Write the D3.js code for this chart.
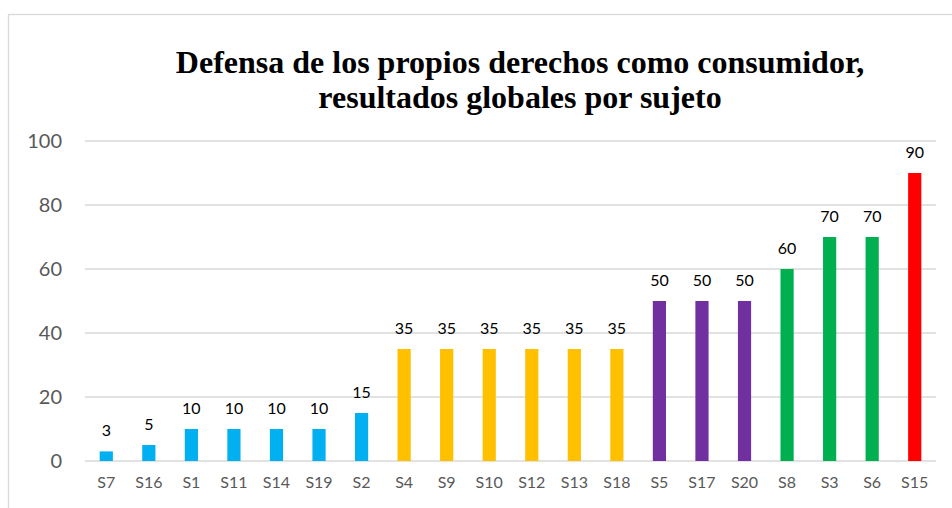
<!DOCTYPE html>
<html>
<head>
<meta charset="utf-8">
<script src="https://cdn.jsdelivr.net/npm/d3@7"></script>
<style>
  body { margin: 0; background: #fff; }
  svg { display: block; }
</style>
</head>
<body>
<svg id="chart" width="952" height="508"></svg>
<script>
// datos
const subjects = ['S7','S16','S1','S11','S14','S19','S2','S4','S9','S10','S12','S13','S18','S5','S17','S20','S8','S3','S6','S15'];
const scores = [3, 5, 10, 10, 10, 10, 15, 35, 35, 35, 35, 35, 35, 50, 50, 50, 60, 70, 70, 90];
const groups = ['b','b','b','b','b','b','b','y','y','y','y','y','y','p','p','p','g','g','g','r'];
const yTicks = [0, 20, 40, 60, 80, 100];
const titleLines = ['Defensa de los propios derechos como consumidor,', 'resultados globales por sujeto'];

const groupColor = { b: '#00B0F0', y: '#FFC000', p: '#7030A0', g: '#00B050', r: '#FF0000' };

const svg = d3.select('#chart');
const plotLeft = 85, plotRight = 936, plotTop = 141, plotBottom = 461;

// chart frame
svg.append('rect')
    .attr('x', 8.5).attr('y', 14.5)
    .attr('width', 960).attr('height', 520)
    .attr('fill', 'none')
    .attr('stroke', '#d9d9d9')
    .attr('stroke-width', 1.3);

svg.append('g').selectAll('text')
    .data(titleLines)
    .join('text')
    .attr('x', 520)
    .attr('y', (d, i) => 73 + i * 35)
    .attr('text-anchor', 'middle')
    .style('font-family', '"Liberation Serif", "Times New Roman", serif')
    .style('font-weight', 'bold')
    .style('font-size', '32px')
    .attr('fill', '#000')
    .text(d => d);

const x = d3.scaleBand().domain(subjects).range([plotLeft, plotRight]).paddingInner(0.69).paddingOuter(0.345);
const y = d3.scaleLinear().domain([0, 100]).range([plotBottom, plotTop]);

// gridlines
svg.append('g').selectAll('line')
    .data(yTicks)
    .join('line')
    .attr('x1', plotLeft).attr('x2', plotRight)
    .attr('y1', d => y(d)).attr('y2', d => y(d))
    .attr('stroke', '#d9d9d9')
    .attr('stroke-width', 1.3);

const yAxis = svg.append('g')
    .attr('transform', `translate(${plotLeft},0)`)
    .call(d3.axisLeft(y).tickValues(yTicks).tickSize(0).tickPadding(23));
yAxis.select('.domain').remove();
yAxis.selectAll('text')
    .style('font-family', 'Lato, "Open Sans", sans-serif')
    .style('font-size', '20px')
    .attr('fill', '#595959');

const xAxis = svg.append('g')
    .attr('transform', `translate(0,${plotBottom})`)
    .call(d3.axisBottom(x).tickSize(0).tickPadding(16));
xAxis.select('.domain').remove();
xAxis.selectAll('text')
    .style('font-family', 'Lato, "Open Sans", sans-serif')
    .style('font-size', '16px')
    .attr('fill', '#595959');

const data = subjects.map((s, i) => ({ s: s, v: scores[i], g: groups[i] }));

svg.append('g').selectAll('rect')
    .data(data)
    .join('rect')
    .attr('x', d => x(d.s))
    .attr('y', d => y(d.v))
    .attr('width', x.bandwidth())
    .attr('height', d => y(0) - y(d.v))
    .attr('fill', d => groupColor[d.g]);

svg.append('g').selectAll('text')
    .data(data)
    .join('text')
    .attr('x', d => x(d.s) + x.bandwidth() / 2)
    .attr('y', d => y(d.v) - 15)
    .attr('text-anchor', 'middle')
    .style('font-family', 'Lato, "Open Sans", sans-serif')
    .style('font-size', '16px')
    .attr('fill', '#000')
    .text(d => d.v);
</script>
</body>
</html>
